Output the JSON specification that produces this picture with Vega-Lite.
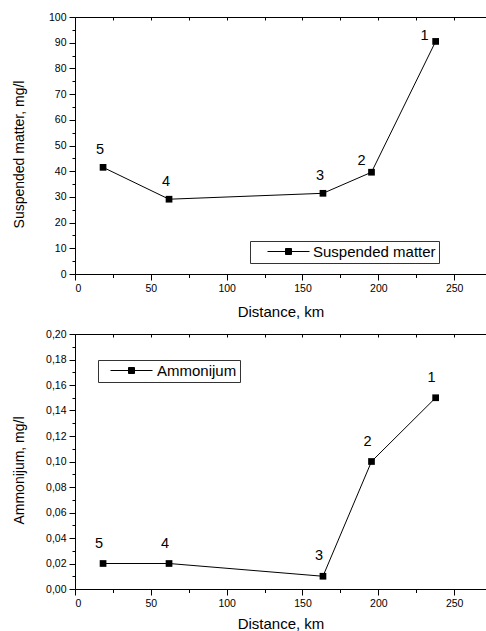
{
  "$schema": "https://vega.github.io/schema/vega-lite/v6.json",
  "padding": {"left": 12, "top": 12, "right": 0, "bottom": 0},
  "bounds": "flush",
  "spacing": 60,
  "datasets": {
    "sm": [
      {"station": "5", "distance": 18.5, "value": 41.5, "series": "Suspended matter"},
      {"station": "4", "distance": 62, "value": 29.1, "series": "Suspended matter"},
      {"station": "3", "distance": 163.5, "value": 31.4, "series": "Suspended matter"},
      {"station": "2", "distance": 195.5, "value": 39.6, "series": "Suspended matter"},
      {"station": "1", "distance": 237.8, "value": 90.5, "series": "Suspended matter"}
    ],
    "am": [
      {"station": "5", "distance": 18.5, "value": 0.02, "series": "Ammonijum"},
      {"station": "4", "distance": 62, "value": 0.02, "series": "Ammonijum"},
      {"station": "3", "distance": 163.5, "value": 0.01, "series": "Ammonijum"},
      {"station": "2", "distance": 195.5, "value": 0.10, "series": "Ammonijum"},
      {"station": "1", "distance": 237.8, "value": 0.15, "series": "Ammonijum"}
    ]
  },
  "resolve": {"scale": {"color": "independent"}, "legend": {"color": "independent"}},
  "vconcat": [
    {
      "width": 411,
      "height": 257,
      "data": {"name": "sm"},
      "layer": [
        {
          "mark": {"type": "line", "color": "black", "strokeWidth": 1},
          "encoding": {
            "x": {"field": "distance", "type": "quantitative", "scale": {"domain": [0, 271], "nice": false, "zero": false},
              "axis": {"orient": "bottom", "values": [0, 50, 100, 150, 200, 250], "tickSize": 6, "labelPadding": 3, "title": "Distance, km", "titleFontSize": 15, "titleY": 37, "titleBaseline": "middle"}},
            "y": {"field": "value", "type": "quantitative", "scale": {"domain": [0, 100], "nice": false},
              "axis": {"orient": "left", "values": [0, 10, 20, 30, 40, 50, 60, 70, 80, 90, 100], "tickSize": 6, "labelPadding": 3, "title": "Suspended matter, mg/l", "titleFontSize": 14, "titleX": -56, "titleY": 137, "titleBaseline": "middle"}}
          }
        },
        {
          "mark": {"type": "point", "shape": "square", "filled": true, "size": 45, "opacity": 1},
          "encoding": {
            "x": {"field": "distance", "type": "quantitative",
              "axis": {"orient": "bottom", "values": [25, 75, 125, 175, 225], "tickSize": 3.5, "labels": false, "domain": false, "title": null}},
            "y": {"field": "value", "type": "quantitative",
              "axis": {"orient": "left", "values": [5, 15, 25, 35, 45, 55, 65, 75, 85, 95], "tickSize": 3, "labels": false, "domain": false, "title": null}},
            "color": {"field": "series", "type": "nominal", "scale": {"range": ["black"]},
              "legend": {"title": null, "orient": "none", "legendX": 175, "legendY": 224, "strokeColor": "#333333", "fillColor": "white", "padding": 3, "cornerRadius": 0,
                "symbolType": "M-7,0H7M-1,-1H1V1H-1Z", "symbolSize": 36, "symbolOffset": 28, "labelOffset": 17, "labelFontSize": 15, "labelFont": "Liberation Sans", "labelColor": "black",
                "labelExpr": "datum.label + '\u00a0\u00a0'",
                "symbolStrokeWidth": 1, "symbolStrokeColor": "black", "symbolFillColor": "black",
                "encode": {"symbols": {"update": {"shape": {"value": "M-7,0H7M-1,-1H1V1H-1Z"}, "stroke": {"value": "black"}, "strokeWidth": {"value": 1}, "fill": {"value": "black"}, "opacity": {"value": 1}, "size": {"value": 36}}}}}}
          }
        },
        {
          "transform": [{"filter": {"field": "station", "oneOf": ["3", "4", "5"]}}],
          "mark": {"type": "text", "fontSize": 14.5, "dx": -3, "dy": -17, "color": "black"},
          "encoding": {
            "x": {"field": "distance", "type": "quantitative",
              "axis": {"orient": "top", "values": [0, 25, 50, 75, 100, 125, 150, 175, 200, 225, 250], "tickSize": -3, "labels": false, "domain": true, "title": null}},
            "y": {"field": "value", "type": "quantitative", "axis": null},
            "text": {"field": "station"}
          }
        },
        {
          "transform": [{"filter": {"field": "station", "equal": "2"}}],
          "mark": {"type": "text", "fontSize": 14.5, "dx": -10, "dy": -11, "color": "black"},
          "encoding": {
            "x": {"field": "distance", "type": "quantitative", "axis": null},
            "y": {"field": "value", "type": "quantitative", "axis": null},
            "text": {"field": "station"}
          }
        },
        {
          "transform": [{"filter": {"field": "station", "equal": "1"}}],
          "mark": {"type": "text", "fontSize": 14.5, "dx": -11, "dy": -5, "color": "black"},
          "encoding": {
            "x": {"field": "distance", "type": "quantitative", "axis": null},
            "y": {"field": "value", "type": "quantitative", "axis": null},
            "text": {"field": "station"}
          }
        }
      ],
      "resolve": {"axis": {"x": "independent", "y": "independent"}}
    },
    {
      "width": 411,
      "height": 255,
      "data": {"name": "am"},
      "layer": [
        {
          "mark": {"type": "line", "color": "black", "strokeWidth": 1},
          "encoding": {
            "x": {"field": "distance", "type": "quantitative", "scale": {"domain": [0, 271], "nice": false, "zero": false},
              "axis": {"orient": "bottom", "values": [0, 50, 100, 150, 200, 250], "tickSize": 6, "labelPadding": 3, "title": "Distance, km", "titleFontSize": 15, "titleY": 34, "titleBaseline": "middle"}},
            "y": {"field": "value", "type": "quantitative", "scale": {"domain": [0, 0.2], "nice": false},
              "axis": {"orient": "left", "values": [0, 0.02, 0.04, 0.06, 0.08, 0.1, 0.12, 0.14, 0.16, 0.18, 0.2], "labelExpr": "replace(format(datum.value, '.2f'), '.', ',')", "tickSize": 6, "labelPadding": 3, "title": "Ammonijum, mg/l", "titleFontSize": 14, "titleX": -56, "titleY": 136, "titleBaseline": "middle"}}
          }
        },
        {
          "mark": {"type": "point", "shape": "square", "filled": true, "size": 45, "opacity": 1},
          "encoding": {
            "x": {"field": "distance", "type": "quantitative",
              "axis": {"orient": "bottom", "values": [25, 75, 125, 175, 225], "tickSize": 3.5, "labels": false, "domain": false, "title": null}},
            "y": {"field": "value", "type": "quantitative",
              "axis": {"orient": "left", "values": [0.01, 0.03, 0.05, 0.07, 0.09, 0.11, 0.13, 0.15, 0.17, 0.19], "tickSize": 3, "labels": false, "domain": false, "title": null}},
            "color": {"field": "series", "type": "nominal", "scale": {"range": ["black"]},
              "legend": {"title": null, "orient": "none", "legendX": 23, "legendY": 26, "strokeColor": "#333333", "fillColor": "white", "padding": 3, "cornerRadius": 0,
                "symbolType": "M-7,0H7M-1,-1H1V1H-1Z", "symbolSize": 36, "symbolOffset": 23, "labelOffset": 18, "labelFontSize": 15, "labelFont": "Liberation Sans", "labelColor": "black",
                "symbolStrokeWidth": 1, "symbolStrokeColor": "black", "symbolFillColor": "black",
                "encode": {"symbols": {"update": {"shape": {"value": "M-7,0H7M-1,-1H1V1H-1Z"}, "stroke": {"value": "black"}, "strokeWidth": {"value": 1}, "fill": {"value": "black"}, "opacity": {"value": 1}, "size": {"value": 36}}}}}}
          }
        },
        {
          "mark": {"type": "text", "fontSize": 14.5, "dx": -4, "dy": -20, "color": "black"},
          "encoding": {
            "x": {"field": "distance", "type": "quantitative",
              "axis": {"orient": "top", "values": [0, 25, 50, 75, 100, 125, 150, 175, 200, 225, 250], "tickSize": -3, "labels": false, "domain": true, "title": null}},
            "y": {"field": "value", "type": "quantitative", "axis": null},
            "text": {"field": "station"}
          }
        }
      ],
      "resolve": {"axis": {"x": "independent", "y": "independent"}}
    }
  ],
  "config": {
    "font": "Liberation Sans",
    "view": {"stroke": null},
    "axis": {"grid": false, "domainColor": "black", "tickColor": "black", "labelColor": "black", "titleColor": "black", "labelFont": "Liberation Sans", "titleFont": "Liberation Sans", "labelFontSize": 10.5, "titleFontWeight": "normal", "domainWidth": 1, "tickWidth": 1},
    "text": {"font": "Liberation Sans"}
  }
}
